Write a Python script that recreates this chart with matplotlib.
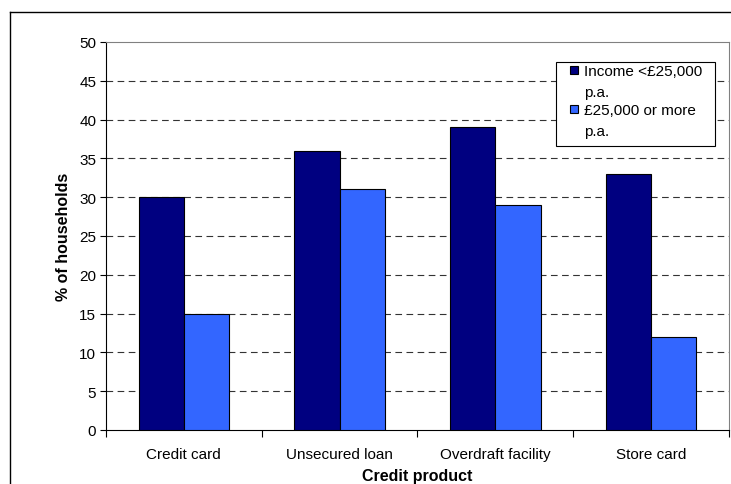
import matplotlib
matplotlib.use("Agg")
import matplotlib.pyplot as plt
import numpy as np
from matplotlib.patches import Rectangle
from matplotlib.lines import Line2D

plt.rcParams['font.family'] = ['Liberation Sans', 'DejaVu Sans']

products = ["Credit card", "Unsecured loan", "Overdraft facility", "Store card"]
low_income = [30, 36, 39, 33]
high_income = [15, 31, 29, 12]
series_labels = ["Income <£25,000\np.a.", "£25,000 or more\np.a."]
yticks = list(range(0, 51, 5))

dark = "#000080"
light = "#3366FF"

W, H = 731, 485
AX_L, AX_R, AX_T, AX_B = 106, 729, 43, 431

fig = plt.figure(figsize=(W / 100, H / 100), dpi=100)
ax = fig.add_axes([AX_L / W, 1 - AX_B / H, (AX_R - AX_L) / W, (AX_B - AX_T) / H])


def px(xp, yp):
    # pixel position -> axes fraction
    return (xp - AX_L) / (AX_R - AX_L), (AX_B - yp) / (AX_B - AX_T)


x = np.arange(len(products))
w = 0.29
ax.bar(x - w / 2, low_income, w, color=dark, edgecolor="black", linewidth=0.8, zorder=3)
ax.bar(x + w / 2, high_income, w, color=light, edgecolor="black", linewidth=0.8, zorder=3)

ax.set_xlim(-0.5, len(products) - 0.5)
ax.set_ylim(0, 50)
ax.set_yticks(yticks)
for v in yticks[1:-1]:
    ax.axhline(v, color="#333333", linestyle=(0, (6, 4)), linewidth=0.8, zorder=1)

# category boundaries get the tick marks, centres get the labels
ax.set_xticks(np.arange(len(products) + 1) - 0.5)
ax.set_xticklabels([])
ax.set_xticks(x, minor=True)
ax.set_xticklabels(products, minor=True)
ax.tick_params(axis="x", which="major", direction="out", length=5, width=0.8)
ax.tick_params(axis="x", which="minor", length=0, pad=12, labelsize=11)
ax.tick_params(axis="y", direction="out", length=4, width=0.8, labelsize=11, pad=3)

for s in ["top", "right"]:
    ax.spines[s].set_color("#808080")
ax.spines["left"].set_color("black")
ax.spines["bottom"].set_color("black")

ax.set_ylabel("% of households", fontsize=11.5, fontweight="bold", labelpad=6)
ax.set_xlabel("Credit product", fontsize=11.5, fontweight="bold", labelpad=5)

# legend drawn by hand so the swatch sits on the first line of each label
x0, y0 = px(556, 147)
x1, y1 = px(715, 63)
ax.add_patch(Rectangle((x0, y0), x1 - x0, y1 - y0, transform=ax.transAxes,
                       facecolor="white", edgecolor="black", linewidth=0.8, zorder=5))
baselines = [(76.5, 97.5), (115.5, 136.5)]
for label, colour, lines_y in zip(series_labels, [dark, light], baselines):
    sx, sy = px(570.5, lines_y[0] - 1.5)
    sx2, sy2 = px(578.5, lines_y[0] - 9.5)
    ax.add_patch(Rectangle((sx, sy), sx2 - sx, sy2 - sy, transform=ax.transAxes,
                           facecolor=colour, edgecolor="black", linewidth=0.8, zorder=6))
    for line, yb in zip(label.split("\n"), lines_y):
        tx, ty = px(584, yb)
        ax.text(tx, ty, line, transform=ax.transAxes, fontsize=11, va="baseline", ha="left", zorder=6)

# outer chart border
fig.add_artist(Line2D([10 / W, 10 / W], [0, 1 - 13 / H], transform=fig.transFigure, color="black", lw=1))
fig.add_artist(Line2D([10 / W, 1], [1 - 13 / H, 1 - 13 / H], transform=fig.transFigure, color="black", lw=1))

fig.savefig("out.png", dpi=100)
